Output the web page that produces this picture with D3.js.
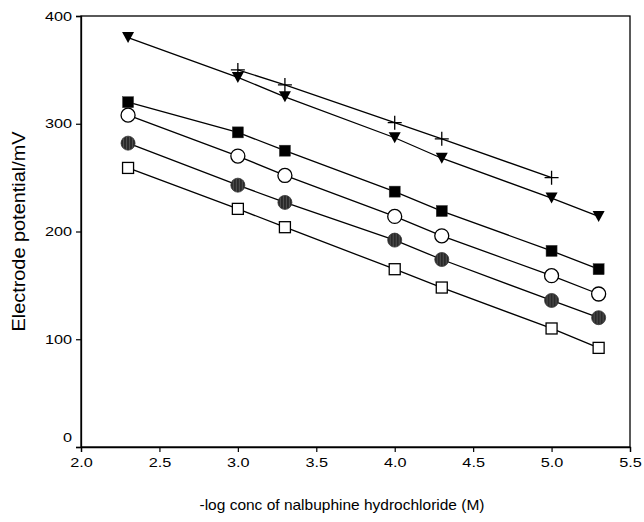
<!DOCTYPE html>
<html lang="en">
<head>
    <meta charset="UTF-8">
    <title>Electrode potential vs -log conc</title>
    <script src="https://d3js.org/d3.v7.min.js"></script>
    <style>
        body { margin: 0; background: #fff; }
        text { font-family: "Liberation Sans", Arial, sans-serif; }
    </style>
</head>
<body>
    <div id="chart"></div>

    <script>
        // Datos
        const xFull = [2.3, 3.0, 3.3, 4.0, 4.3, 5.0, 5.3];
        const xPlus = [3.0, 3.3, 4.0, 4.3, 5.0];

        const triangleVals = [380, 343, 325, 287, 268, 231, 214];
        const plusVals = [350, 336, 301, 286, 250];
        const filledSquareVals = [320, 292, 275, 237, 219, 182, 165];
        const openCircleVals = [308, 270, 252, 214, 196, 159, 142];
        const hatchedCircleVals = [282, 243, 227, 192, 174, 136, 120];
        const openSquareVals = [259, 221, 204, 165, 148, 110, 92];

        const xTicks = [2.0, 2.5, 3.0, 3.5, 4.0, 4.5, 5.0, 5.5];
        const yTicks = [0, 100, 200, 300, 400];

        const series = [
            { x: xFull, y: triangleVals, marker: "triangle" },
            { x: xPlus, y: plusVals, marker: "plus" },
            { x: xFull, y: filledSquareVals, marker: "filledSquare" },
            { x: xFull, y: openCircleVals, marker: "openCircle" },
            { x: xFull, y: hatchedCircleVals, marker: "hatchedCircle" },
            { x: xFull, y: openSquareVals, marker: "openSquare" }
        ];

        // Configuración
        const W = 644, H = 522;
        const margin = { top: 16, right: 14, bottom: 75, left: 81 };
        const width = W - margin.left - margin.right;
        const height = H - margin.top - margin.bottom;
        const stretch = 1.25; // el original está estirado en horizontal

        const svg = d3.select("#chart").append("svg")
            .attr("width", W)
            .attr("height", H);

        const defs = svg.append("defs");
        const pat = defs.append("pattern")
            .attr("id", "hatch")
            .attr("patternUnits", "userSpaceOnUse")
            .attr("width", 3)
            .attr("height", 14);
        pat.append("rect").attr("width", 3).attr("height", 14).attr("fill", "#2a2a2a");
        pat.append("line").attr("x1", 1.5).attr("x2", 1.5).attr("y1", 0).attr("y2", 14)
            .attr("stroke", "#5a5a5a").attr("stroke-width", 0.8);

        const g = svg.append("g")
            .attr("transform", `translate(${margin.left},${margin.top})`);

        // Escalas
        const xScale = d3.scaleLinear().domain([2.0, 5.5]).range([0, width]);
        const yScale = d3.scaleLinear().domain([0, 400]).range([height, 0]);

        // Marco
        g.append("rect")
            .attr("width", width).attr("height", height)
            .attr("fill", "none").attr("stroke", "#000").attr("stroke-width", 1.3);

        // Ejes
        const xAxis = g.append("g")
            .attr("transform", `translate(0,${height})`)
            .call(d3.axisBottom(xScale).tickValues(xTicks).tickFormat(d3.format(".1f")).tickSize(5).tickPadding(6));
        const yAxis = g.append("g")
            .call(d3.axisLeft(yScale).tickValues(yTicks).tickSize(5).tickPadding(4));

        [xAxis, yAxis].forEach(a => {
            a.select(".domain").attr("stroke-width", 1.3);
            a.selectAll(".tick line").attr("stroke-width", 1.2);
            a.selectAll(".tick text")
                .style("font-family", "'Liberation Sans', Arial, sans-serif")
                .style("font-size", "13px").attr("fill", "#000")
                .attr("transform", `scale(${stretch},1)`);
        });
        yAxis.selectAll(".tick text").attr("x", -9 / stretch);
        yAxis.selectAll(".tick text").filter(d => d === 0).attr("dy", "-0.4em");

        // Líneas
        const line = d3.line().x(d => xScale(d[0])).y(d => yScale(d[1]));
        series.forEach(s => {
            g.append("path")
                .datum(s.x.map((x, i) => [x, s.y[i]]))
                .attr("d", line)
                .attr("fill", "none")
                .attr("stroke", "#000")
                .attr("stroke-width", 1.3);
        });

        // Marcadores
        function drawMarker(sel, type) {
            if (type === "triangle") {
                sel.append("path").attr("d", "M-6,-5.5L6,-5.5L0,5.5Z").attr("fill", "#000");
            } else if (type === "plus") {
                sel.append("path").attr("d", "M-7,0H7M0,-7V7").attr("stroke", "#000").attr("stroke-width", 1.3).attr("fill", "none");
            } else if (type === "filledSquare") {
                sel.append("rect").attr("x", -5.5).attr("y", -5.5).attr("width", 11).attr("height", 11)
                    .attr("fill", "#000").attr("stroke", "#333").attr("stroke-width", 0.5);
            } else if (type === "openCircle") {
                sel.append("circle").attr("r", 7).attr("fill", "#fff").attr("stroke", "#000").attr("stroke-width", 1.3);
            } else if (type === "hatchedCircle") {
                sel.append("circle").attr("r", 7).attr("fill", "url(#hatch)").attr("stroke", "#333").attr("stroke-width", 0.8);
            } else if (type === "openSquare") {
                sel.append("rect").attr("x", -5.5).attr("y", -5.5).attr("width", 11).attr("height", 11)
                    .attr("fill", "#fff").attr("stroke", "#000").attr("stroke-width", 1.3);
            }
        }

        series.forEach(s => {
            g.selectAll(null)
                .data(s.x.map((x, i) => [x, s.y[i]]))
                .enter().append("g")
                .attr("transform", d => `translate(${xScale(d[0])},${yScale(d[1])})`)
                .each(function () { drawMarker(d3.select(this), s.marker); });
        });

        // Etiquetas de ejes
        svg.append("text")
            .attr("x", 342)
            .attr("y", 510)
            .attr("text-anchor", "middle")
            .attr("textLength", 285)
            .attr("lengthAdjust", "spacingAndGlyphs")
            .style("font-size", "15px")
            .text("-log conc of nalbuphine hydrochloride (M)");

        svg.append("text")
            .attr("transform", `translate(25,${margin.top + height / 2}) scale(${stretch},1) rotate(-90)`)
            .attr("text-anchor", "middle")
            .attr("textLength", 200)
            .attr("lengthAdjust", "spacingAndGlyphs")
            .style("font-size", "15px")
            .text("Electrode potential/mV");
    </script>
</body>
</html>
